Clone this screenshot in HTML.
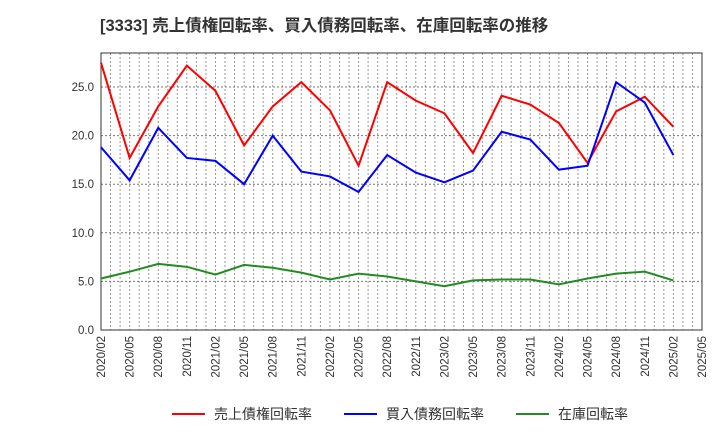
<!DOCTYPE html>
<html><head><meta charset="utf-8"><style>
body{margin:0;background:#fff;font-family:"Liberation Sans","Noto Sans CJK JP",sans-serif}
</style></head><body>
<svg id="c" width="720" height="440" xmlns="http://www.w3.org/2000/svg">
<text x="100" y="31" font-size="16.5" font-weight="bold" fill="#333" font-family="Liberation Sans, Noto Sans CJK JP, sans-serif">[3333]  売上債権回転率、買入債務回転率、在庫回転率の推移</text>
<g id="grid"></g><g id="axes"></g><g id="series"></g><g id="legend"></g>
</svg>
<script>
const xLabels=["2020/02","2020/05","2020/08","2020/11","2021/02","2021/05","2021/08","2021/11","2022/02","2022/05","2022/08","2022/11","2023/02","2023/05","2023/08","2023/11","2024/02","2024/05","2024/08","2024/11","2025/02","2025/05"];
const yTicks=[0,5,10,15,20,25];
const receivables=[27.5,17.7,23.0,27.2,24.6,19.0,23.0,25.5,22.6,16.9,25.5,23.6,22.3,18.2,24.1,23.2,21.3,17.2,22.5,24.0,20.9];
const payables=[18.8,15.4,20.8,17.7,17.4,15.0,20.0,16.3,15.8,14.2,18.0,16.2,15.2,16.4,20.4,19.6,16.5,16.9,25.5,23.4,18.0];
const inventory=[5.3,6.0,6.8,6.5,5.7,6.7,6.4,5.9,5.2,5.8,5.5,5.0,4.5,5.1,5.2,5.2,4.7,5.3,5.8,6.0,5.1];
const NS="http://www.w3.org/2000/svg";
const L=101,R=702,T=53,B=330,YMAX=28.5;
const xs=i=>L+(R-L)*i/(xLabels.length-1);
const ys=v=>B-(B-T)*v/YMAX;
function mk(t,a,p){const e=document.createElementNS(NS,t);for(const k in a)e.setAttribute(k,a[k]);p.appendChild(e);return e;}
const grid=document.getElementById('grid'),axes=document.getElementById('axes'),ser=document.getElementById('series'),leg=document.getElementById('legend');
for(let m=0;m<=(xLabels.length-1)*3;m++){const x=L+(R-L)*m/((xLabels.length-1)*3);
const g=mk('line',{x1:x,x2:x,y1:T,y2:B,stroke:'#999','stroke-dasharray':'2,2','stroke-width':1},grid);

}
yTicks.forEach(v=>{const y=ys(v);
const g=mk('line',{x1:L,x2:R,y1:y,y2:y,stroke:'#777','stroke-dasharray':'2,2','stroke-width':1},grid);


const t=mk('text',{x:L-7,y:y+4,'text-anchor':'end','font-size':11.5,fill:'#333'},axes);t.textContent=v.toFixed(1);

});
xLabels.forEach((s,i)=>{const x=xs(i);
const t=mk('text',{x:x+4,y:B+6,'text-anchor':'end','font-size':11.5,fill:'#333',transform:`rotate(-90 ${x+4} ${B+6})`},axes);t.textContent=s;

});
const fr=mk('rect',{x:L,y:T,width:R-L,height:B-T,fill:'none',stroke:'#333','stroke-width':1},axes);


[[receivables,'#ff0000','receivables-line'],[payables,'#0000ff','payables-line'],[inventory,'#228b22','inventory-line']].forEach(([d,c,n])=>{
const p=mk('polyline',{points:d.map((v,i)=>xs(i)+','+ys(v)).join(' '),fill:'none',stroke:c,'stroke-width':2},ser);

});
[['売上債権回転率','#ff0000',172],['買入債務回転率','#0000ff',344],['在庫回転率','#228b22',516]].forEach(([s,c,x])=>{
const l=mk('line',{x1:x,x2:x+33,y1:414,y2:414,stroke:c,'stroke-width':2},leg);


const t=mk('text',{x:x+42,y:419,'font-size':14,fill:'#333'},leg);t.textContent=s;

});
</script>
</body></html>
